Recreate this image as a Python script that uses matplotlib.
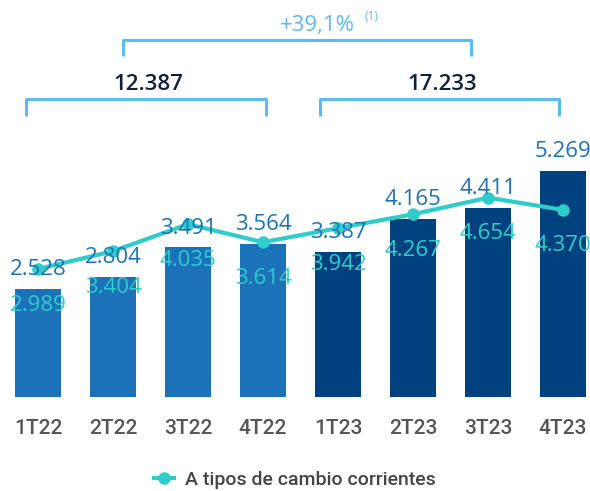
import matplotlib
matplotlib.use("Agg")
import matplotlib.pyplot as plt
from matplotlib.lines import Line2D

quarters = ["1T22", "2T22", "3T22", "4T22", "1T23", "2T23", "3T23", "4T23"]
bar_values = [2528, 2804, 3491, 3564, 3387, 4165, 4411, 5269]
line_values = [2989, 3404, 4035, 3614, 3942, 4267, 4654, 4370]
year_totals = ["12.387", "17.233"]
growth_label = "+39,1%"
legend_label = "A tipos de cambio corrientes"

C22 = "#1b72b8"
C23 = "#00427f"
TEAL = "#2ecccb"
BRACKET = "#5bbcf5"
NAVY = "#0f1f3d"


def fmt(v):
    return f"{v:,}".replace(",", ".")


W, H = 590, 491
fig = plt.figure(figsize=(W / 100, H / 100), dpi=100)
base_px = 397
ax = fig.add_axes([0, (H - base_px) / H, 1, base_px / H])
ax.set_xlim(-38 / 75, (W - 38) / 75)
ax.set_ylim(0, base_px * 23.35)
ax.axis("off")

x = list(range(len(quarters)))
colors = [C22] * 4 + [C23] * 4
ax.bar(x, bar_values, width=0.61, color=colors, zorder=2)
ax.plot(x, line_values, color=TEAL, lw=3, marker="o", ms=8, zorder=3)

font = "Open Sans"
for xi, bv, lv in zip(x, bar_values, line_values):
    ax.annotate(fmt(bv), (xi, bv), xytext=(0, 14), textcoords="offset points",
                ha="center", va="center", fontsize=16, color=C22,
                family=font, fontweight="medium", zorder=4)
    ax.annotate(fmt(lv), (xi, lv), xytext=(0, -26), textcoords="offset points",
                ha="center", va="center", fontsize=16, color=TEAL,
                family=font, fontweight="medium", zorder=4)

# brackets (y in axes fraction)
tr = ax.get_xaxis_transform()


def yf(py):
    return 1 - py / base_px


def bracket(x0, x1, ytop, ybot):
    ax.plot([x0, x0, x1, x1], [yf(ybot), yf(ytop), yf(ytop), yf(ybot)],
            transform=tr, color=BRACKET, lw=2.2, clip_on=False,
            solid_joinstyle="round", solid_capstyle="butt")


bracket(-0.16, 3.04, 99, 116)
bracket(3.76, 6.95, 99, 116)
bracket(1.13, 5.77, 40, 56)

ax.text(1.47, yf(84), year_totals[0], transform=tr, ha="center", va="center",
        fontsize=16, color=NAVY, family=font, fontweight="semibold")
ax.text(5.39, yf(84), year_totals[1], transform=tr, ha="center", va="center",
        fontsize=16, color=NAVY, family=font, fontweight="semibold")
ax.text(3.72, yf(25), growth_label, transform=tr, ha="center", va="center",
        fontsize=16, color=BRACKET, family=font, fontweight="medium")
ax.text(4.45, yf(17), "(1)", transform=tr, ha="center", va="center",
        fontsize=8.5, color=BRACKET, family=font)

for xi, q in zip(x, quarters):
    ax.text(xi, yf(428), q, transform=tr, ha="center", va="center",
            fontsize=15, color="#555555", family="Roboto", fontweight="medium")

handle = Line2D([], [], color=TEAL, lw=3, marker="o", ms=8)
fig.legend([handle], [legend_label], loc="center", bbox_to_anchor=(0.5, 1 - 480 / H),
           frameon=False, handlelength=1.0, handletextpad=0.6,
           prop={"family": "Roboto", "size": 14, "weight": "medium"},
           labelcolor="#444444")

fig.savefig("out.png", dpi=100)
